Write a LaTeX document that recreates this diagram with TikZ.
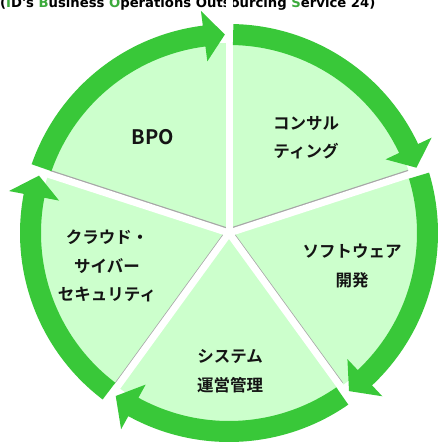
\documentclass[tikz,border=0pt]{standalone}
\usepackage{fontspec}
\IfFontExistsTF{Noto Sans CJK JP Bold}
  {\newfontfamily\jpb{Noto Sans CJK JP Bold}}
  {\IfFontExistsTF{Noto Sans CJK JP:style=Bold}
    {\newfontfamily\jpb{Noto Sans CJK JP:style=Bold}}
    {\newfontfamily\jpb{Noto Sans CJK JP}[FakeBold=3]}}
\newfontfamily\titlefont{DejaVu Sans}
\definecolor{arrowgreen}{RGB}{57,200,57}
\definecolor{secfill}{RGB}{204,255,204}
\definecolor{titlegreen}{RGB}{60,170,60}
\definecolor{txt}{RGB}{20,20,20}
\tikzset{
  seclabel/.style={font=\jpb\fontsize{16.5}{28.5}\selectfont, text=txt, align=center, inner sep=0pt},
  gapline/.style={white, line width=7pt},
  gapshadow/.style={black!35, line width=7pt},
  ringarrow/.style={fill=arrowgreen}
}
\begin{document}
\begin{tikzpicture}[x=1pt,y=1pt]
\useasboundingbox (0,0) rectangle (440,442);
\clip (0,0) rectangle (440,442);
% title (cut by top edge)
\node[anchor=base west, inner sep=0pt, font=\titlefont\bfseries\fontsize{13.2}{15}\selectfont] (title) at (0,434)
  {(\textcolor{titlegreen}{I}D's \textcolor{titlegreen}{B}usiness \textcolor{titlegreen}{O}perations Outsourcing \textcolor{titlegreen}{S}ervice 24)};
\begin{scope}[shift={(229,209)}]
  \coordinate (c) at (0,0);
  % pie
  \fill[secfill] (c) circle[radius=190pt];
  % shadows of gaps
  \foreach \g in {162,18,-54,-126}{
    \draw[gapshadow] ([yshift=1.3pt]c) -- ([yshift=1.3pt]\g:189pt);
  }
  % gaps
  \foreach \g in {162,90,18,-54,-126}{
    \draw[gapline] (c) -- (\g:235pt);
  }
  % ring arrows
  \foreach \g in {162,90,18,-54,-126}{
    \pgfmathsetmacro{\s}{\g-1.2}
    \pgfmathsetmacro{\t}{\g-72+1.2}
    \pgfmathsetmacro{\b}{\t+6}
    \fill[ringarrow] (\s:188pt) -- (\s:209pt) arc[start angle=\s, end angle=\b, radius=209pt]
      -- (\b:224pt) -- (\t:198.5pt) -- (\b:173pt) -- (\b:188pt)
      arc[start angle=\b, end angle=\s, radius=188pt] -- cycle;
  }
\end{scope}
% labels
\node[seclabel, font=\jpb\fontsize{20}{22}\selectfont] (bpo) at (153,305) {BPO};
\node[seclabel] (cons) at (306,304.5) {コンサル\\ティング};
\node[seclabel] (soft) at (352,176) {ソフトウェア\\開発};
\node[seclabel] (sys) at (230,71) {システム\\運営管理};
\node[seclabel] (cloud) at (107,176) {クラウド・\\サイバー\\セキュリティ};
\end{tikzpicture}
\end{document}
